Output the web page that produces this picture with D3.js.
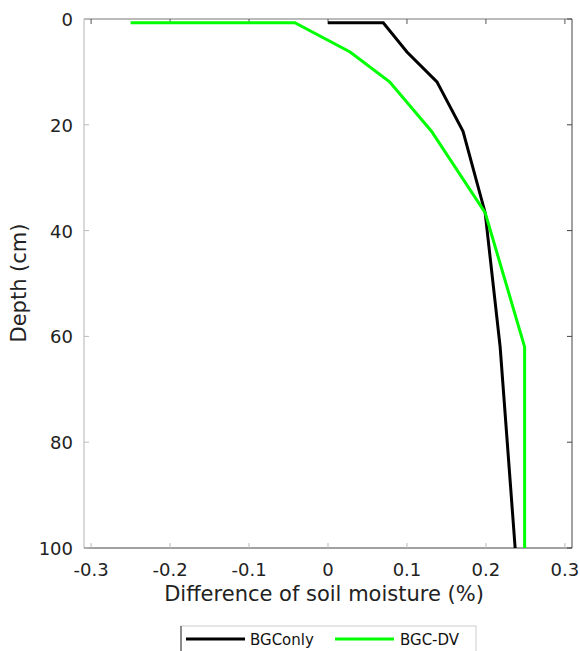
<!DOCTYPE html>
<html><head><meta charset="utf-8">
<script src="https://cdn.jsdelivr.net/npm/d3@7"></script>
<style>body{margin:0;background:#fff}svg{display:block;font-family:"DejaVu Sans",sans-serif}</style>
</head><body><svg id="c" width="580" height="651"></svg>
<script>
const depths = [0.7, 0.7, 6.23, 11.89, 21.22, 36.61, 61.98, 100];
const bgcOnly = [0.0, 0.07, 0.10, 0.138, 0.171, 0.199, 0.218, 0.237];
const bgcDV = [-0.25, -0.042, 0.028, 0.078, 0.131, 0.199, 0.249, 0.249];
const xTicks = [-0.3, -0.2, -0.1, 0, 0.1, 0.2, 0.3];
const yTicks = [0, 20, 40, 60, 80, 100];
const seriesNames = ["BGConly", "BGC-DV"];
const seriesColors = ["#000000", "#00ff00"];

const svg = d3.select("#c");
const L = 84, R = 572, T = 19, B = 548;
const x = d3.scaleLinear().domain([-0.309, 0.309]).range([L, R]);
const y = d3.scaleLinear().domain([0, 100]).range([T, B]);

// box
svg.append("line").attr("x1", L).attr("x2", R).attr("y1", T).attr("y2", T).attr("stroke", "#777").attr("stroke-width", 1);
svg.append("line").attr("x1", R).attr("x2", R).attr("y1", T).attr("y2", B).attr("stroke", "#444").attr("stroke-width", 1);
svg.append("line").attr("x1", L).attr("x2", L).attr("y1", T).attr("y2", B).attr("stroke", "#c0c0c0").attr("stroke-width", 1.2);
svg.append("line").attr("x1", L).attr("x2", R).attr("y1", B).attr("y2", B).attr("stroke", "#444").attr("stroke-width", 1.2);

const fmt = d => d === 0 ? "0" : d3.format(".1f")(d).replace("−", "-");
xTicks.forEach(t => {
  svg.append("line").attr("x1", x(t)).attr("x2", x(t)).attr("y1", B).attr("y2", B - 5).attr("stroke", "#bbb");
  svg.append("line").attr("x1", x(t)).attr("x2", x(t)).attr("y1", T).attr("y2", T + 5).attr("stroke", "#555");
  svg.append("text").attr("x", x(t)).attr("y", 576).attr("text-anchor", "middle")
    .attr("font-size", 18).attr("fill", "#222").text(fmt(t));
});
yTicks.forEach(t => {
  svg.append("line").attr("x1", L).attr("x2", L + 5).attr("y1", y(t)).attr("y2", y(t)).attr("stroke", "#bbb");
  svg.append("line").attr("x1", R).attr("x2", R - 5).attr("y1", y(t)).attr("y2", y(t)).attr("stroke", "#444");
  svg.append("text").attr("x", 73).attr("y", y(t) + 7).attr("text-anchor", "end")
    .attr("font-size", 18).attr("fill", "#222").text(t);
});

svg.append("text").attr("x", 324).attr("y", 601).attr("text-anchor", "middle")
  .attr("font-size", 21).attr("fill", "#222").text("Difference of soil moisture (%)");
svg.append("text").attr("transform", `translate(26,283) rotate(-90)`).attr("text-anchor", "middle")
  .attr("font-size", 21).attr("fill", "#222").text("Depth (cm)");

const line = d3.line().x(d => x(d[0])).y(d => y(d[1]));
[bgcOnly, bgcDV].forEach((s, i) => {
  svg.append("path").datum(s.map((v, j) => [v, depths[j]]))
    .attr("d", line).attr("fill", "none").attr("stroke", seriesColors[i])
    .attr("stroke-width", 3).attr("stroke-linejoin", "miter");
});

// legend
const lg = svg.append("g");
lg.append("rect").attr("x", 181).attr("y", 626).attr("width", 295).attr("height", 40)
  .attr("fill", "#fff").attr("stroke", "#ccc");
lg.append("line").attr("x1", 181).attr("x2", 181).attr("y1", 626).attr("y2", 651).attr("stroke", "#333");
const lx = [186, 335], tx = [250, 400];
seriesNames.forEach((n, i) => {
  lg.append("line").attr("x1", lx[i]).attr("x2", lx[i] + 59).attr("y1", 639).attr("y2", 639)
    .attr("stroke", seriesColors[i]).attr("stroke-width", 3);
  lg.append("text").attr("x", tx[i]).attr("y", 645).attr("font-size", 15).attr("fill", "#111").text(n);
});
</script></body></html>
